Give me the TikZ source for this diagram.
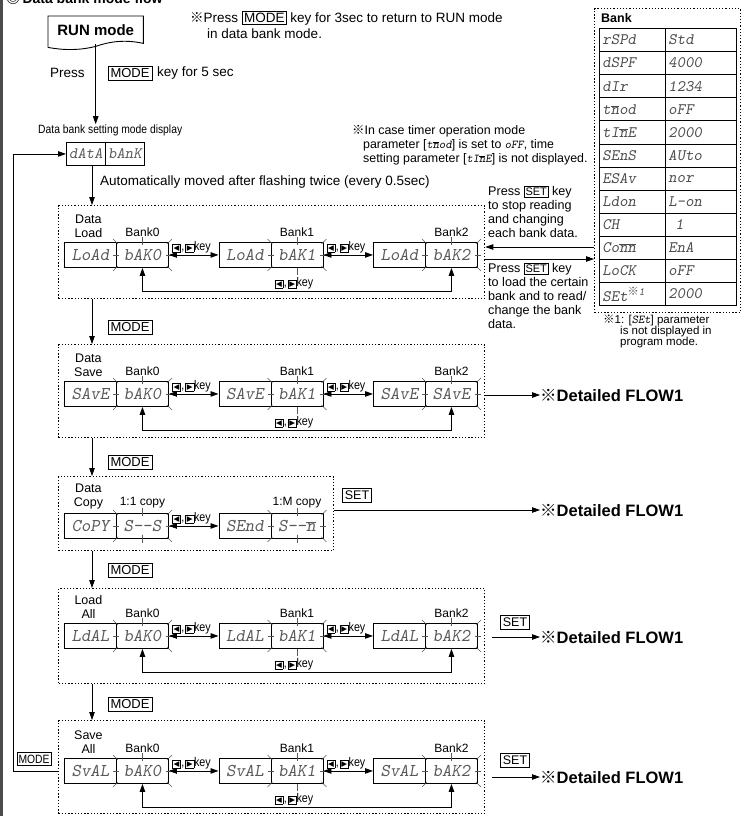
\documentclass[tikz,border=0pt]{standalone}
\usepackage{fontspec}
\setmainfont{Liberation Sans}
\newfontfamily\cjkfont{Noto Sans CJK JP}
\newfontfamily\dejavu{DejaVu Sans}
\newfontfamily\narrowfont[FakeStretch=0.86]{Liberation Sans}
\usetikzlibrary{arrows.meta,calc}
\newcommand\segbig{\ttfamily\slshape\fontsize{18}{18}\selectfont}
\newcommand\segmid{\ttfamily\slshape\fontsize{16}{16}\selectfont}
\newcommand\segsml{\ttfamily\slshape\fontsize{12}{12}\selectfont}
\newcommand\bn{\ensuremath{\overline{\mbox{n}}}}
\newcommand\kmark{{\cjkfont ※}}
\newcommand\kbox[1]{{\setlength\fboxsep{0.9pt}\setlength\fboxrule{0.6pt}\fbox{\dejavu\fontsize{7.5}{7.5}\selectfont #1}}}
\newcommand\lrkey{\kbox{◀}\kern0.5pt,\kern1pt\kbox{▶}key}
\newcommand\modein{{\setlength\fboxsep{1.5pt}\setlength\fboxrule{0.6pt}\fbox{MODE}}}
\newcommand\setin{{\setlength\fboxsep{1pt}\setlength\fboxrule{0.6pt}\fbox{\fontsize{11}{11}\selectfont SET}}}
\tikzset{
 seg/.style={draw, line width=0.9pt, minimum width=52pt, minimum height=25pt, inner sep=0pt, font=\segbig, text=black!65, anchor=north west},
 segs/.style={seg, minimum width=39pt, minimum height=23pt, font=\segmid},
 txt/.style={inner sep=0pt, font=\fontsize{13.5}{14}\selectfont, align=left},
 lbl/.style={inner sep=0pt, font=\fontsize{12}{12}\selectfont},
 ttl/.style={inner sep=0pt, font=\fontsize{12.5}{14}\selectfont, align=center},
 keyl/.style={inner sep=0pt, font=\narrowfont\fontsize{12.5}{12.5}\selectfont},
 modeb/.style={draw, line width=0.7pt, inner xsep=2.5pt, inner ysep=2.5pt, font=\fontsize{13}{13}\selectfont},
 setb/.style={modeb, font=\fontsize{12.5}{12.5}\selectfont},
 arr/.style={-{Triangle[length=8pt,width=5.5pt]}, line width=0.8pt},
 darr/.style={{Triangle[length=8pt,width=5.5pt]}-{Triangle[length=8pt,width=5.5pt]}, line width=0.8pt},
 tk/.style={line width=0.5pt, black!65},
 dotbox/.style={draw, line width=1.3pt, dash pattern=on 1.3pt off 1.9pt, anchor=north west, inner sep=0pt},
 flow/.style={inner sep=0pt, anchor=west, font=\bfseries\fontsize{16.5}{16.5}\selectfont},
 cellL/.style={draw, line width=0.9pt, minimum height=23.1pt, text width=60pt, inner xsep=3pt, inner ysep=0pt, anchor=north west, align=left, font=\segmid, text=black!70},
 cellR/.style={cellL, text width=65pt},
}
\newcommand\dpair[5]{%
  \node[seg] (#1a) at (#2,#3) {#4};
  \node[seg] (#1b) at (#2+52,#3) {#5};}
\newcommand\flash[1]{%
  \draw[tk] ($(#1.north west)+(2,2)$) -- ++(-5,-5);
  \draw[tk] ($(#1.north east)+(-2,2)$) -- ++(5,-5);
  \draw[tk] ($(#1.south west)+(2,-2)$) -- ++(-5,5);
  \draw[tk] ($(#1.south east)+(-2,-2)$) -- ++(5,5);
  \draw[tk] ($(#1.west)+(-3,0)$) -- ++(6,0);
  \draw[tk] ($(#1.east)+(-3,0)$) -- ++(6,0);
  \draw[tk] ($(#1.north)+(0,-5)$) -- ++(0,8);}
\newcommand\bankrow[7]{%
  \dpair{#1p0}{64}{#2}{#3}{#4}
  \dpair{#1p1}{218.5}{#2}{#3}{#5}
  \dpair{#1p2}{373}{#2}{#3}{#6}
  \flash{#1p0b}\flash{#1p1b}\flash{#1p2b}
  \draw[darr] (#1p0b.east) -- (#1p1a.west);
  \draw[darr] (#1p1b.east) -- (#1p2a.west);
  \node[keyl, anchor=south west] (#1k1) at ($(#1p0b.east)+(3,-2)$) {\lrkey};
  \node[keyl, anchor=south west] (#1k2) at ($(#1p1b.east)+(3,-2)$) {\lrkey};
  \draw[tk] (#1p1b.south) -- ++(0,7);
  \node[keyl, anchor=north] (#1k3) at ($(#1p1b.south)+(-3,9)$) {\lrkey};
  \draw[darr] (#1p0b.south) -- ++(0,23) -| (#1p2b.south);
  \node[lbl, anchor=south] (#1n0) at ($(#1p0b.north)+(0,-5)$) {Bank0};
  \node[lbl, anchor=south] (#1n1) at ($(#1p1b.north)+(0,-5)$) {Bank1};
  \node[lbl, anchor=south] (#1n2) at ($(#1p2b.north)+(0,-5)$) {Bank2};
  \node[ttl, anchor=south] (#1t) at ($(#1p0a.north)+(-2,-4)$) {#7};}
\begin{document}
\begin{tikzpicture}[x=1pt,y=-1pt]
\useasboundingbox (0,0) rectangle (744,816);
\fill[black!70] (0,0) rectangle (3,816);
\node[anchor=base west, inner sep=0pt, font=\bfseries\fontsize{14}{14}\selectfont] (hd) at (6,4) {{\cjkfont ◎}\,Data bank mode flow};
% RUN mode
\node[anchor=north west, minimum width=95pt, minimum height=28pt, inner sep=0pt, font=\bfseries\fontsize{15}{15}\selectfont] (run) at (48,16) {RUN mode};
\draw[line width=0.9pt] ($(run.south west)+(0,3)$) -- (run.north west) -- (run.north east) -- ($(run.south east)+(0,-1)$) .. controls ($(run.south east)+(-18,-5)$) and ($(run.south)+(14,-3)$) .. ($(run.south)+(0,2)$) .. controls ($(run.south)+(-16,6)$) and ($(run.south west)+(16,6)$) .. ($(run.south west)+(0,3)$);
% notes
\node[txt, anchor=west] (n1) at (190,18) {\kmark Press \modein{} key for 3sec to return to RUN mode};
\node[txt, anchor=west] (n2) at (207,34) {in data bank mode.};
\node[txt, anchor=west] (p1) at (50,73) {Press};
\node[modeb] (m0) at (130,73) {MODE};
\node[txt, anchor=west] (p2) at (157,73) {key for 5 sec};
\node[inner sep=0pt, font=\narrowfont\fontsize{12}{12}\selectfont, anchor=west] (dbl) at (38,130) {Data bank setting mode display};
\draw[arr] (run.south) -- (run.south |- dbl.north);
\node[segs] (da) at (66,142) {dAtA};
\node[segs] (db) at (105,142) {bAnK};
\node[txt, anchor=west] (auto) at (100,182) {Automatically moved after flashing twice (every 0.5sec)};
\node[txt, anchor=north west, font=\fontsize{12.4}{14}\selectfont] (n3) at (352,125) {\kmark In case timer operation mode\\\hspace*{11pt}parameter [{\segsml t\bn od}] is set to {\segsml oFF}, time\\\hspace*{11pt}setting parameter [{\segsml tI\bn E}] is not displayed.};
% dotted boxes
\node[dotbox, minimum width=426pt, minimum height=93pt] (BL) at (58,205) {};
\node[dotbox, minimum width=426pt, minimum height=93pt] (BS) at (58,344) {};
\node[dotbox, minimum width=275pt, minimum height=74pt] (BC) at (58,476) {};
\node[dotbox, minimum width=426pt, minimum height=95pt] (BA) at (58,588) {};
\node[dotbox, minimum width=426pt, minimum height=93pt] (BV) at (58,720) {};
\coordinate (cx) at (92,0);
\draw[arr] (da.south -| cx) -- (BL.north -| cx);
\draw[arr] (BL.south -| cx) -- (BS.north -| cx);
\draw[arr] (BS.south -| cx) -- (BC.north -| cx);
\draw[arr] (BC.south -| cx) -- (BA.north -| cx);
\draw[arr] (BA.south -| cx) -- (BV.north -| cx);
\node[modeb] (m1) at (130,327) {MODE};
\node[modeb] (m2) at (130,462) {MODE};
\node[modeb] (m3) at (130,570) {MODE};
\node[modeb] (m4) at (130,704) {MODE};
% rows
\bankrow{L}{242}{LoAd}{bAK0}{bAK1}{bAK2}{Data\\Load}
\bankrow{S}{381}{SAvE}{bAK0}{bAK1}{SAvE}{Data\\Save}
\bankrow{A}{623}{LdAL}{bAK0}{bAK1}{bAK2}{Load\\All}
\bankrow{V}{758}{SvAL}{bAK0}{bAK1}{bAK2}{Save\\All}
% copy row
\dpair{Cp0}{64}{513}{CoPY}{S-{}-S}
\dpair{Cp1}{218.5}{513}{SEnd}{S-{}-\bn}
\flash{Cp0b}\flash{Cp1b}
\draw[tk] (Cp0b.south) -- ++(0,-4) -- ++(0,8);
\draw[tk] (Cp1b.south) -- ++(0,-4) -- ++(0,8);
\draw[darr] (Cp0b.east) -- (Cp1a.west);
\node[keyl, anchor=south west] (Ck1) at ($(Cp0b.east)+(3,-2)$) {\lrkey};
\node[lbl, anchor=south] (Cn0) at ($(Cp0b.north)+(0,-5)$) {1:1 copy};
\node[lbl, anchor=south] (Cn1) at ($(Cp1b.north)+(0,-5)$) {1:M copy};
\node[ttl, anchor=south] (Ct) at ($(Cp0a.north)+(-2,-4)$) {Data\\Copy};
% right texts
\node[txt, anchor=north west, font=\fontsize{12.6}{14}\selectfont] (ps1) at (488,186) {Press \setin{} key\\to stop reading\\and changing\\each bank data.};
\node[txt, anchor=north west, font=\fontsize{12.6}{14}\selectfont] (ps2) at (488,263) {Press \setin{} key\\to load the certain\\bank and to read/\\change the bank\\data.};
% table
\node[dotbox, minimum width=146pt, minimum height=304pt] (tb) at (594,8) {};
\node[anchor=west, inner sep=0pt, font=\bfseries\fontsize{12.5}{12.5}\selectfont] (bk) at (601,18) {Bank};
\foreach \a/\b [count=\i] in {rSPd/Std, dSPF/4000, dIr/1234, {t\bn od}/oFF, {tI\bn E}/2000, SEnS/AUto, ESAv/nor, Ldon/L-on, CH/{\hspace*{7pt}1}, {Co\bn\bn}/EnA, LoCK/oFF, {SEt\textsuperscript{\kmark1}}/2000}{
  \node[cellL] (ta\i) at (599,{28+23.1*(\i-1)}) {\a};
  \node[cellR] (tv\i) at (665,{28+23.1*(\i-1)}) {\b};
}
\node[inner sep=0pt, anchor=north west, align=left, font=\fontsize{11.5}{11}\selectfont] (fn) at (603,315) {\kmark1: [{\segsml SEt}] parameter\\\hspace*{17pt}is not displayed in\\\hspace*{17pt}program mode.};
\coordinate (y1) at (0,247);
\coordinate (y2) at (0,259);
\draw[arr] (tb.west |- y1) -- (BL.east |- y1);
\draw[arr] (BL.east |- y2) -- (tb.west |- y2);
% detailed flows
\node[flow] (f1) at (540,395) {\kmark Detailed FLOW1};
\draw[arr] (BS.east |- f1) -- (f1.west);
\node[setb] (s1) at (357,495) {SET};
\node[flow] (f2) at (540,510) {\kmark Detailed FLOW1};
\draw[arr] (BC.east |- f2) -- (f2.west);
\node[setb] (s2) at (515,622) {SET};
\node[flow] (f3) at (540,637) {\kmark Detailed FLOW1};
\coordinate (a3) at (492,637);
\draw[arr] (a3) -- (f3.west);
\node[setb] (s3) at (515,760) {SET};
\node[flow] (f4) at (540,777) {\kmark Detailed FLOW1};
\coordinate (a4) at (492,777);
\draw[arr] (a4) -- (f4.west);
% feedback loop
\node[modeb, font=\narrowfont\fontsize{12}{12}\selectfont, inner xsep=1.5pt] (mf) at (34,759) {MODE};
\coordinate (fb1) at (58,771);
\coordinate (fb2) at (13,771);
\draw[arr] (fb1) -- (fb2) |- (da.west);
\end{tikzpicture}
\end{document}
